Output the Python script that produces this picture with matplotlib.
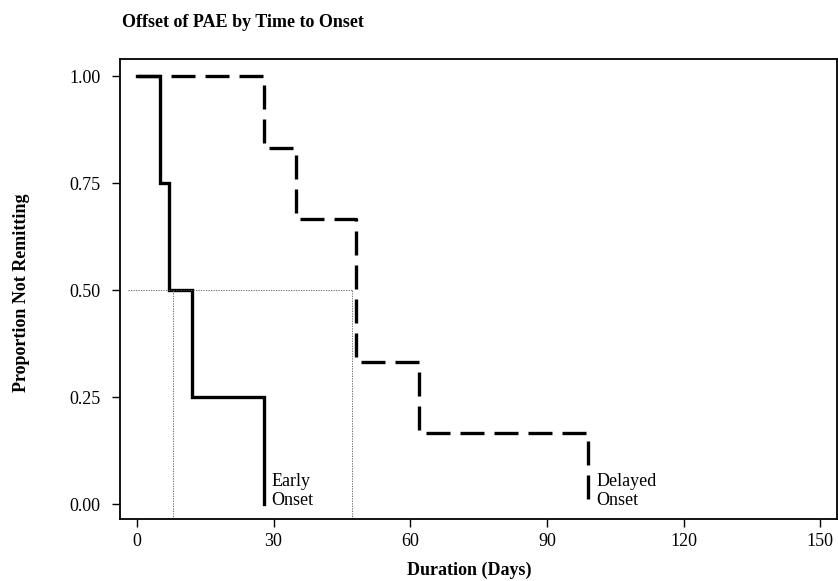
import matplotlib
matplotlib.use("Agg")
import matplotlib.pyplot as plt

# Data
early_days = [0, 5, 7, 12, 28]
early_prop = [1.00, 0.75, 0.50, 0.25, 0.00]
delayed_days = [0, 28, 35, 48, 62, 99]
delayed_prop = [1.00, 0.833, 0.667, 0.333, 0.167, 0.00]
early_median = 7.9
delayed_median = 47.3
x_ticks = [0, 30, 60, 90, 120, 150]
y_ticks = [0.00, 0.25, 0.50, 0.75, 1.00]
y_ticklabels = ["0.00", "0.25", "0.50", "0.75", "1.00"]

plt.rcParams['font.family'] = ['Liberation Serif', 'DejaVu Serif']

fig = plt.figure(figsize=(8.38, 5.81), dpi=100)
ax = fig.add_axes([0.1432, 0.1059, 0.8552, 0.7917])

ax.step(early_days, early_prop, where='post', color='black', lw=2.4,
        solid_joinstyle='miter')
ax.step(delayed_days, delayed_prop, where='post', color='black', lw=2.4,
        dashes=(7.2, 3), dash_capstyle='butt')

# Median reference lines
ax.plot([-2, delayed_median], [0.5, 0.5], color='#555555', lw=0.6, ls=(0, (1.5, 1.5)))
ax.plot([early_median, early_median], [-0.036, 0.5], color='#555555', lw=0.6, ls=(0, (1.5, 1.5)))
ax.plot([delayed_median, delayed_median], [-0.036, 0.5], color='#555555', lw=0.6, ls=(0, (1.5, 1.5)))

ax.text(29.6, -0.012, "Early\nOnset", fontsize=13, ha='left', va='bottom', linespacing=1.15)
ax.text(100.8, -0.012, "Delayed\nOnset", fontsize=13, ha='left', va='bottom', linespacing=1.15)

ax.set_xlim(-3.7, 153.6)
ax.set_ylim(-0.036, 1.039)
ax.set_xticks(x_ticks)
ax.set_yticks(y_ticks)
ax.set_yticklabels(y_ticklabels)
ax.tick_params(direction='out', length=6, width=1.0, labelsize=13)
ax.tick_params(axis='x', pad=4)
ax.tick_params(axis='y', pad=8)
for s in ax.spines.values():
    s.set_linewidth(1.3)

ax.set_xlabel("Duration (Days)", fontsize=13, fontweight='bold')
ax.xaxis.set_label_coords(0.488, -0.092)
ax.set_ylabel("Proportion Not Remitting", fontsize=13, fontweight='bold')
ax.yaxis.set_label_coords(-0.125, 0.492)
fig.text(0.1455, 0.962, "Offset of PAE by Time to Onset", fontsize=13, fontweight='bold',
         ha='left', va='center')

fig.savefig("out.png", dpi=100)
